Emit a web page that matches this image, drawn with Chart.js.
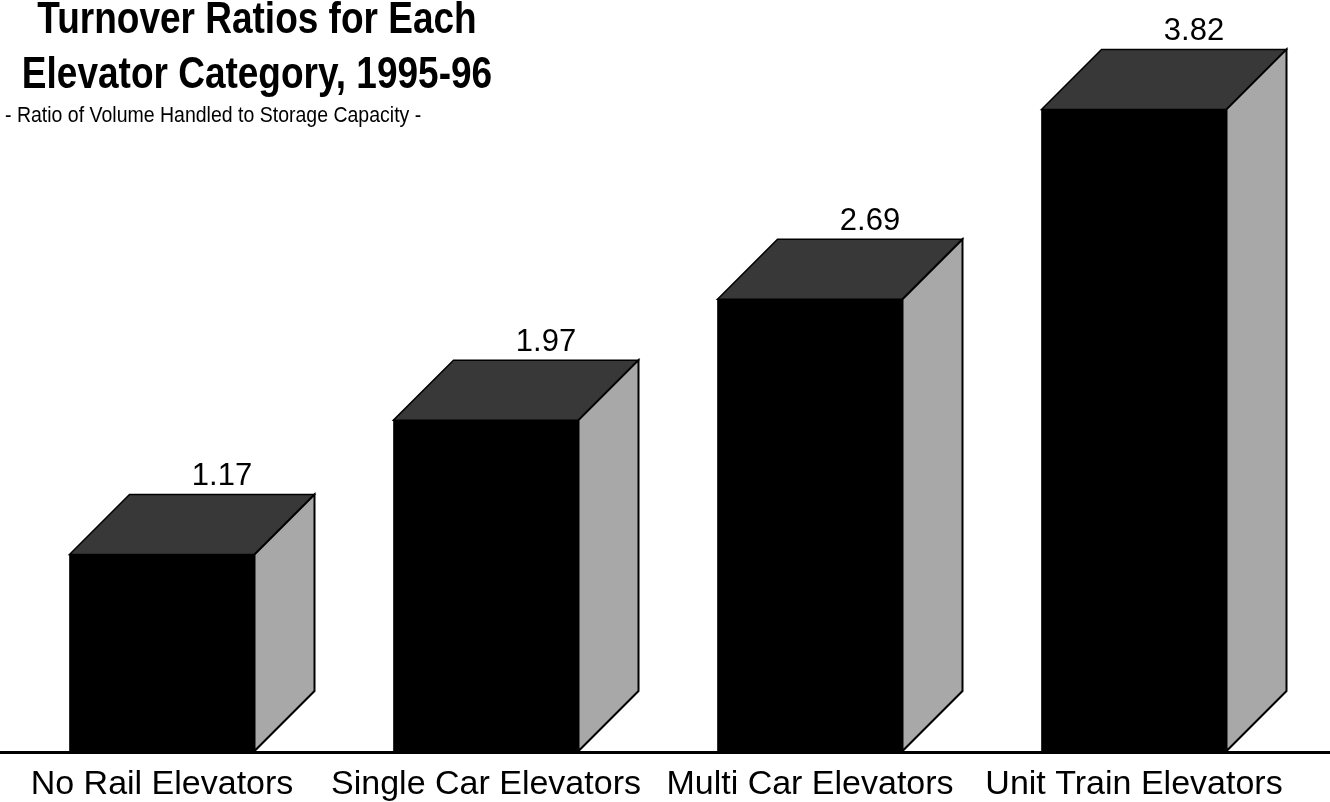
<!DOCTYPE html>
<html lang="en">
<head>
    <meta charset="UTF-8">
    <title>Turnover Ratios for Each Elevator Category, 1995-96</title>
    <script src="https://cdn.jsdelivr.net/npm/chart.js"></script>
    <style>
        html, body { margin: 0; padding: 0; background: #fff; }
        .chartbox { width: 1330px; height: 802px; }
    </style>
</head>
<body>
    <div class="chartbox">
        <canvas id="barChart"></canvas>
    </div>
    <script>
        // chart data
        const categories = ['No Rail Elevators', 'Single Car Elevators', 'Multi Car Elevators', 'Unit Train Elevators'];
        const turnoverRatios = [1.17, 1.97, 2.69, 3.82];
        const titleLines = ['Turnover Ratios for Each', 'Elevator Category, 1995-96'];
        const subtitleText = '- Ratio of Volume Handled to Storage Capacity -';

        const FONT = "'Liberation Sans', Arial, sans-serif";
        const DEPTH = 60;

        // draws the top and side faces of each bar, the value labels and the base line
        const box3d = {
            id: 'box3d',
            afterDatasetsDraw(chart) {
                const ctx = chart.ctx;
                const meta = chart.getDatasetMeta(0);
                ctx.save();
                meta.data.forEach(function (bar, i) {
                    const left = bar.x - bar.width / 2;
                    const right = bar.x + bar.width / 2;
                    const top = bar.y;
                    const base = bar.base;

                    // top face
                    ctx.beginPath();
                    ctx.moveTo(left, top);
                    ctx.lineTo(left + DEPTH, top - DEPTH);
                    ctx.lineTo(right + DEPTH, top - DEPTH);
                    ctx.lineTo(right, top);
                    ctx.closePath();
                    ctx.fillStyle = '#383838';
                    ctx.fill();
                    ctx.lineWidth = 1.5;
                    ctx.strokeStyle = '#000';
                    ctx.stroke();

                    // side face
                    ctx.beginPath();
                    ctx.moveTo(right, top);
                    ctx.lineTo(right + DEPTH, top - DEPTH);
                    ctx.lineTo(right + DEPTH, base - DEPTH);
                    ctx.lineTo(right, base);
                    ctx.closePath();
                    ctx.fillStyle = '#a8a8a8';
                    ctx.fill();
                    ctx.lineWidth = 2;
                    ctx.stroke();

                    // value label
                    ctx.fillStyle = '#000';
                    ctx.font = '31px ' + FONT;
                    ctx.textAlign = 'center';
                    ctx.textBaseline = 'alphabetic';
                    ctx.fillText(turnoverRatios[i].toFixed(2), bar.x + DEPTH, top - DEPTH - 9);
                });

                // base line across the whole width
                const y0 = chart.scales.y.getPixelForValue(0);
                ctx.beginPath();
                ctx.moveTo(0, y0 + 1.5);
                ctx.lineTo(chart.width, y0 + 1.5);
                ctx.lineWidth = 3;
                ctx.strokeStyle = '#000';
                ctx.stroke();
                ctx.restore();
            }
        };

        // title and subtitle in the upper left corner (the scan has slightly tall lettering)
        function tallText(ctx, text, x, y, stretch) {
            ctx.save();
            ctx.translate(x, y);
            ctx.scale(1, stretch);
            ctx.fillText(text, 0, 0);
            ctx.restore();
        }

        const header = {
            id: 'header',
            afterDraw(chart) {
                const ctx = chart.ctx;
                ctx.save();
                ctx.fillStyle = '#000';
                ctx.textBaseline = 'alphabetic';
                ctx.textAlign = 'center';
                ctx.font = 'bold 37px ' + FONT;
                tallText(ctx, titleLines[0], 257, 33, 1.2);
                tallText(ctx, titleLines[1], 257, 88, 1.2);
                ctx.textAlign = 'left';
                ctx.font = '19.5px ' + FONT;
                tallText(ctx, subtitleText, 5, 122, 1.15);
                ctx.restore();
            }
        };

        const ctx = document.getElementById('barChart').getContext('2d');
        const chart = new Chart(ctx, {
            type: 'bar',
            data: {
                labels: categories,
                datasets: [{
                    data: turnoverRatios,
                    backgroundColor: '#000',
                    borderWidth: 0,
                    barThickness: 185
                }]
            },
            options: {
                responsive: true,
                maintainAspectRatio: false,
                animation: false,
                layout: { padding: { top: 12, right: 34, left: 0, bottom: 0 } },
                plugins: {
                    legend: { display: false },
                    tooltip: { enabled: false }
                },
                scales: {
                    x: {
                        grid: { display: false },
                        border: { display: false },
                        ticks: {
                            color: '#000',
                            padding: 5,
                            maxRotation: 0,
                            font: { family: FONT, size: 34 }
                        },
                        afterFit: function (scale) { scale.height = 51; }
                    },
                    y: {
                        display: false,
                        min: 0,
                        max: 4.4
                    }
                }
            },
            plugins: [box3d, header]
        });
    </script>
</body>
</html>
